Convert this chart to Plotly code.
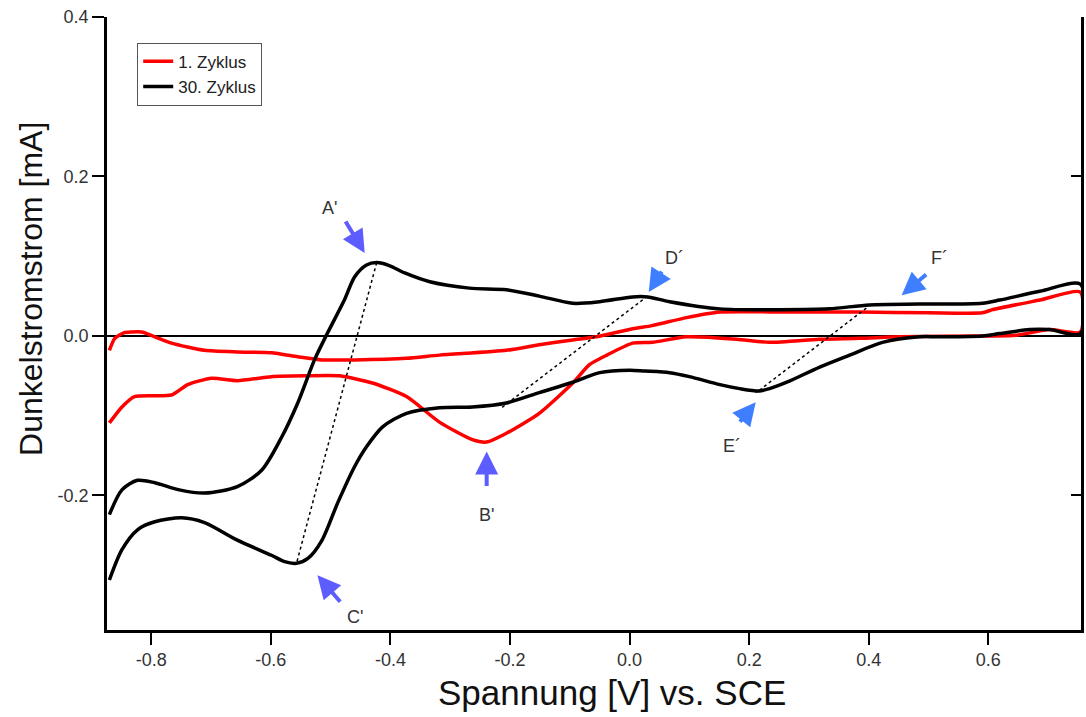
import plotly.graph_objects as go

# ---- data ----
cyc30_fwd_x = [-0.870, -0.849, -0.823, -0.794, -0.753, -0.711, -0.656, -0.615, -0.582, -0.555,
               -0.527, -0.505, -0.477, -0.460, -0.440, -0.423, -0.401, -0.376, -0.334, -0.268,
               -0.206, -0.151, -0.095, -0.050, 0.005, 0.030, 0.067, 0.151, 0.251, 0.334,
               0.401, 0.485, 0.590, 0.619, 0.686, 0.754]
cyc30_fwd_y = [-0.224, -0.193, -0.181, -0.184, -0.193, -0.197, -0.189, -0.168, -0.127, -0.084,
               -0.030, 0.004, 0.045, 0.074, 0.089, 0.092, 0.088, 0.079, 0.068, 0.060,
               0.058, 0.050, 0.041, 0.043, 0.049, 0.049, 0.043, 0.034, 0.033, 0.034,
               0.039, 0.040, 0.041, 0.045, 0.056, 0.065]
cyc30_rev_x = [0.754, 0.702, 0.669, 0.619, 0.590, 0.518, 0.485, 0.423, 0.368, 0.318,
               0.263, 0.234, 0.217, 0.184, 0.151, 0.100, 0.067, 0.025, 0.000, -0.050,
               -0.095, -0.151, -0.206, -0.263, -0.318, -0.373, -0.413, -0.440, -0.460, -0.488,
               -0.515, -0.538, -0.557, -0.577, -0.599, -0.656, -0.711, -0.749, -0.794, -0.823,
               -0.849, -0.870]
cyc30_rev_y = [0.003, 0.008, 0.008, 0.003, 0.000, -0.001, -0.001, -0.008, -0.024, -0.039,
               -0.058, -0.066, -0.069, -0.066, -0.061, -0.051, -0.046, -0.044, -0.043, -0.046,
               -0.058, -0.071, -0.084, -0.089, -0.090, -0.097, -0.114, -0.139, -0.164, -0.209,
               -0.257, -0.279, -0.285, -0.283, -0.275, -0.256, -0.234, -0.228, -0.233, -0.243,
               -0.268, -0.306]

cyc1_fwd_x = [-0.870, -0.861, -0.846, -0.833, -0.816, -0.794, -0.766, -0.711, -0.656, -0.599,
              -0.555, -0.515, -0.460, -0.373, -0.318, -0.206, -0.151, -0.095, -0.055, 0.005,
              0.038, 0.095, 0.151, 0.263, 0.385, 0.502, 0.590, 0.607, 0.686, 0.754]
cyc1_fwd_y = [-0.018, -0.003, 0.004, 0.005, 0.005, -0.001, -0.009, -0.018, -0.020, -0.021,
              -0.026, -0.030, -0.030, -0.028, -0.024, -0.018, -0.011, -0.005, -0.001, 0.009,
              0.013, 0.023, 0.030, 0.030, 0.030, 0.029, 0.029, 0.033, 0.045, 0.055]
cyc1_rev_x = [0.754, 0.702, 0.647, 0.590, 0.452, 0.385, 0.318, 0.234, 0.179, 0.095,
              0.038, 0.005, -0.038, -0.067, -0.095, -0.151, -0.206, -0.239, -0.263, -0.318,
              -0.373, -0.430, -0.485, -0.543, -0.599, -0.656, -0.699, -0.739, -0.766, -0.828,
              -0.849, -0.870]
cyc1_rev_y = [0.005, 0.008, 0.001, 0.000, -0.001, -0.003, -0.004, -0.008, -0.004, -0.001,
              -0.008, -0.009, -0.024, -0.036, -0.059, -0.097, -0.122, -0.133, -0.130, -0.108,
              -0.076, -0.059, -0.050, -0.050, -0.051, -0.056, -0.053, -0.061, -0.074, -0.076,
              -0.089, -0.109]

# dotted connector lines between peak pairs (x0, y0, x1, y1)
peak_pairs_x0 = [-0.423, 0.030, 0.396]
peak_pairs_y0 = [0.092, 0.050, 0.035]
peak_pairs_x1 = [-0.557, -0.214, 0.212]
peak_pairs_y1 = [-0.285, -0.090, -0.071]

# peak labels and arrow tips
label_text = ["A'", "B'", "C'", "D´", "E´", "F´"]
label_x = [-0.502, -0.239, -0.460, 0.075, 0.172, 0.518]
label_y = [0.161, -0.224, -0.352, 0.098, -0.138, 0.098]
arrow_x = [-0.443, -0.239, -0.522, 0.032, 0.211, 0.455]
arrow_y = [0.104, -0.145, -0.300, 0.055, -0.083, 0.051]

x_ticks = [-0.8, -0.6, -0.4, -0.2, 0.0, 0.2, 0.4, 0.6]
x_ticktext = ["-0.8", "-0.6", "-0.4", "-0.2", "0.0", "0.2", "0.4", "0.6"]
y_ticks = [-0.2, 0.0, 0.2, 0.4]
y_ticktext = ["-0.2", "0.0", "0.2", "0.4"]

# ---- styling ----
arrow_ax = [-20, 0, 24, 14, -17, 26]
arrow_ay = [-33, 36, 28, -22, 21, -22]
arrow_col = ["#5c5cff", "#5c5cff", "#5c5cff", "#3f7fff", "#3f7fff", "#3f7fff"]
FONT = "Arial, Liberation Sans, sans-serif"

fig = go.Figure()
fig.add_trace(go.Scatter(x=cyc1_fwd_x + cyc1_rev_x, y=cyc1_fwd_y + cyc1_rev_y, mode="lines",
                         name="1. Zyklus", line=dict(color="#ff0000", width=3.5, shape="spline", smoothing=0.6)))
fig.add_trace(go.Scatter(x=cyc30_fwd_x + cyc30_rev_x, y=cyc30_fwd_y + cyc30_rev_y, mode="lines",
                         name="30. Zyklus", line=dict(color="#000000", width=3.5, shape="spline", smoothing=0.8)))
# invisible trace to activate the right-hand mirrored axis
fig.add_trace(go.Scatter(x=[None], y=[None], yaxis="y2", showlegend=False, hoverinfo="skip"))

for x0, y0, x1, y1 in zip(peak_pairs_x0, peak_pairs_y0, peak_pairs_x1, peak_pairs_y1):
    fig.add_shape(type="line", x0=x0, y0=y0, x1=x1, y1=y1, xref="x", yref="y",
                  line=dict(color="black", width=1.5, dash="dot"))

for t, lx, ly in zip(label_text, label_x, label_y):
    fig.add_annotation(x=lx, y=ly, text=t, showarrow=False,
                       font=dict(family=FONT, size=18, color="#333333"))
for axp, ayp, dx, dy, c in zip(arrow_x, arrow_y, arrow_ax, arrow_ay, arrow_col):
    fig.add_annotation(x=axp, y=ayp, text="", showarrow=True, ax=dx, ay=dy,
                       arrowhead=2, arrowsize=1.15, arrowwidth=4, arrowcolor=c)

# axis titles as annotations (positioned like the reference)
fig.add_annotation(text="Spannung [V] vs. SCE", xref="paper", yref="paper",
                   x=(611 - 107) / 973, y=-(692 - 630) / 613, showarrow=False,
                   xanchor="center", yanchor="middle",
                   font=dict(family=FONT, size=35, color="#111111"))
fig.add_annotation(text="Dunkelstromstrom [mA]", xref="paper", yref="paper",
                   x=-(107 - 31) / 973, y=(630 - 289) / 613, showarrow=False, textangle=-90,
                   xanchor="center", yanchor="middle",
                   font=dict(family=FONT, size=32, color="#111111"))

fig.update_layout(
    width=1086, height=717,
    margin=dict(l=107, r=5, t=17, b=87),
    paper_bgcolor="white", plot_bgcolor="white",
    font=dict(family=FONT, color="#333333"),
    showlegend=True,
    legend=dict(x=0.031, y=0.958, xanchor="left", yanchor="top",
                bordercolor="#555555", borderwidth=1, bgcolor="white",
                font=dict(family=FONT, size=17, color="#222222"),
                tracegroupgap=0, itemwidth=30),
    xaxis=dict(range=[-0.874, 0.755], tickvals=x_ticks, ticktext=x_ticktext,
               ticks="outside", ticklen=12, tickwidth=2, tickcolor="black",
               showline=True, linecolor="black", linewidth=2.5, showgrid=False, zeroline=False,
               tickfont=dict(family=FONT, size=18, color="#333333")),
    yaxis=dict(range=[-0.3687, 0.4], tickvals=y_ticks, ticktext=y_ticktext,
               ticks="outside", ticklen=12, tickwidth=2, tickcolor="black",
               showline=True, linecolor="black", linewidth=2.5, showgrid=False,
               zeroline=True, zerolinecolor="black", zerolinewidth=2,
               tickfont=dict(family=FONT, size=18, color="#333333")),
    yaxis2=dict(range=[-0.3687, 0.4], tickvals=y_ticks, overlaying="y", side="right",
                ticks="inside", ticklen=10, tickwidth=2, tickcolor="black",
                showticklabels=False, showline=True, linecolor="black", linewidth=2.5,
                showgrid=False, zeroline=False),
)

fig.write_html("out.html")
